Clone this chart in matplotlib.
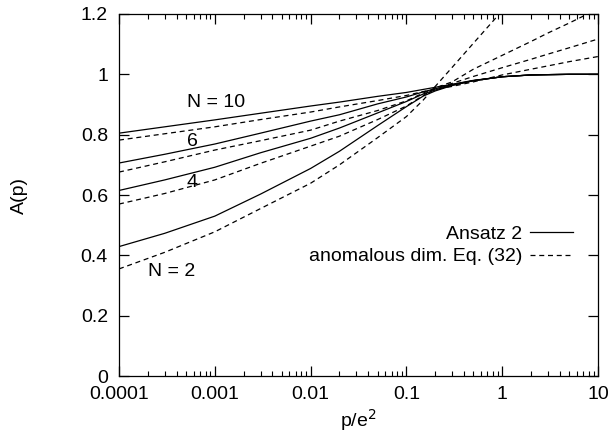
import matplotlib
matplotlib.use('Agg')
import matplotlib.pyplot as plt
from matplotlib.ticker import FixedLocator, NullFormatter, LogLocator

plt.rcParams['font.family'] = ['Liberation Sans', 'DejaVu Sans']

# p/e^2 sample points
p = [1e-4, 3e-4, 1e-3, 3e-3, 1e-2, 2e-2, 5e-2, 0.1, 0.15, 0.2, 0.3, 0.5, 1, 2, 3, 5, 10]

# Ansatz 2 (solid)
ansatz_n10 = [0.805, 0.826, 0.849, 0.871, 0.895, 0.908, 0.927, 0.940, 0.950, 0.957, 0.967, 0.980, 0.992, 0.998, 0.999, 1.0, 1.0]
ansatz_n6 = [0.706, 0.735, 0.769, 0.805, 0.845, 0.866, 0.902, 0.925, 0.942, 0.952, 0.966, 0.979, 0.992, 0.998, 0.999, 1.0, 1.0]
ansatz_n4 = [0.615, 0.650, 0.692, 0.740, 0.788, 0.822, 0.872, 0.910, 0.935, 0.948, 0.964, 0.979, 0.992, 0.998, 0.999, 1.0, 1.0]
ansatz_n2 = [0.429, 0.473, 0.530, 0.603, 0.688, 0.745, 0.830, 0.893, 0.928, 0.945, 0.963, 0.979, 0.992, 0.998, 0.999, 1.0, 1.0]

# anomalous dim. Eq. (32) (dashed)
anom_n10 = [0.782, 0.803, 0.826, 0.850, 0.875, 0.892, 0.913, 0.930, 0.943, 0.950, 0.960, 0.975, 0.998, 1.017, 1.028, 1.042, 1.059]
anom_n6 = [0.676, 0.710, 0.749, 0.780, 0.815, 0.845, 0.880, 0.912, 0.938, 0.955, 0.970, 0.993, 1.022, 1.050, 1.067, 1.088, 1.117]
anom_n4 = [0.570, 0.605, 0.650, 0.705, 0.762, 0.795, 0.850, 0.895, 0.930, 0.955, 0.975, 1.017, 1.063, 1.109, 1.137, 1.170, 1.217]
anom_n2 = [0.355, 0.410, 0.478, 0.555, 0.639, 0.700, 0.790, 0.860, 0.915, 0.960, 1.023, 1.103, 1.211, 1.320, 1.380, 1.460, 1.570]

fig = plt.figure(figsize=(6.09, 4.32), dpi=100)
ax = fig.add_axes([0.1954, 0.1296, 0.7866, 0.838])

for ys in (ansatz_n10, ansatz_n6, ansatz_n4):
    ax.plot(p, ys, color='black', lw=0.9)
ax.plot(p, ansatz_n2, color='black', lw=0.9, label='Ansatz 2')

for ys in (anom_n10, anom_n6, anom_n4):
    ax.plot(p, ys, color='black', lw=0.9, dashes=(4, 3))
ax.plot(p, anom_n2, color='black', lw=0.9, dashes=(4, 3), label='anomalous dim. Eq. (32)')

ax.set_xscale('log')
ax.set_xlim(1e-4, 10)
ax.set_ylim(0, 1.2)

ax.xaxis.set_major_locator(FixedLocator([1e-4, 1e-3, 1e-2, 0.1, 1, 10]))
ax.set_xticklabels(['0.0001', '0.001', '0.01', '0.1', '1', '10'])
ax.xaxis.set_minor_locator(LogLocator(base=10, subs=(2, 3, 4, 5, 6, 7, 8, 9), numticks=20))
ax.xaxis.set_minor_formatter(NullFormatter())
ax.set_yticks([0, 0.2, 0.4, 0.6, 0.8, 1, 1.2])
ax.set_yticklabels(['0', '0.2', '0.4', '0.6', '0.8', '1', '1.2'])

fs = 14
ax.tick_params(which='major', direction='in', length=7, width=0.9, top=True, right=True,
               labelsize=fs)
ax.tick_params(axis='x', which='major', pad=7)
ax.tick_params(axis='y', which='major', pad=8)
ax.tick_params(which='minor', direction='in', length=3.5, width=0.8, top=True, right=True)
for s in ax.spines.values():
    s.set_linewidth(0.9)

ax.set_xlabel('p/e$^2$', fontsize=fs, labelpad=3)
ax.set_ylabel('A(p)', fontsize=fs, labelpad=38)

ax.text(5.1e-4, 0.905, 'N = 10', fontsize=fs, ha='left', va='center')
ax.text(5.8e-4, 0.776, '6', fontsize=fs, ha='center', va='center')
ax.text(5.8e-4, 0.64, '4', fontsize=fs, ha='center', va='center')
ax.text(2.0e-4, 0.345, 'N = 2', fontsize=fs, ha='left', va='center')

ax.legend(loc='upper right', bbox_to_anchor=(0.963, 0.438), frameon=False, fontsize=fs,
          markerfirst=False, handlelength=2.2, handletextpad=0.4, labelspacing=0.25,
          borderaxespad=0)

fig.savefig('out.png', dpi=100)
